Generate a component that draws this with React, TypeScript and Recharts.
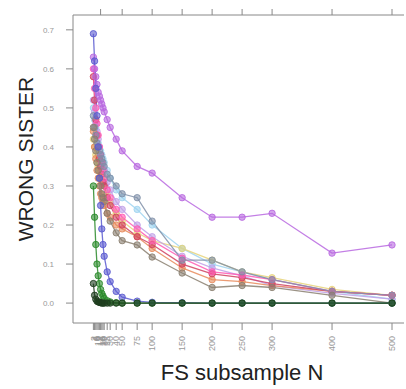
import React from "react";
import { LineChart, Line, XAxis, YAxis } from "recharts";

// FS subsample sizes (x positions of every point)
const sampleN = [2, 4, 6, 8, 10, 12, 14, 16, 18, 20, 25, 30, 40, 50, 75, 100, 150, 200, 250, 300, 400, 500];
const yTicks = [0, 0.1, 0.2, 0.3, 0.4, 0.5, 0.6, 0.7];

const lightblue = [0.5, 0.47, 0.45, 0.43, 0.41, 0.4, 0.39, 0.38, 0.37, 0.36, 0.34, 0.32, 0.29, 0.27, 0.24, 0.2, 0.14, 0.1, 0.08, 0.06, 0.03, 0.01];
const khaki = [0.42, 0.4, 0.38, 0.36, 0.35, 0.34, 0.33, 0.32, 0.31, 0.3, 0.28, 0.26, 0.23, 0.21, 0.18, 0.16, 0.14, 0.11, 0.08, 0.065, 0.035, 0.02];
const lavender = [0.52, 0.49, 0.46, 0.44, 0.42, 0.4, 0.38, 0.36, 0.35, 0.34, 0.31, 0.29, 0.26, 0.24, 0.2, 0.17, 0.12, 0.09, 0.07, 0.045, 0.025, 0.01];
const orange = [0.44, 0.4, 0.37, 0.34, 0.32, 0.3, 0.28, 0.27, 0.26, 0.25, 0.23, 0.22, 0.2, 0.19, 0.17, 0.14, 0.09, 0.06, 0.055, 0.045, 0.03, 0.02];
const red = [0.58, 0.52, 0.47, 0.43, 0.4, 0.37, 0.35, 0.33, 0.31, 0.3, 0.27, 0.25, 0.22, 0.2, 0.17, 0.15, 0.1, 0.075, 0.065, 0.05, 0.03, 0.02];
const pink = [0.6, 0.55, 0.5, 0.46, 0.43, 0.4, 0.38, 0.36, 0.34, 0.32, 0.29, 0.27, 0.24, 0.22, 0.19, 0.16, 0.115, 0.08, 0.072, 0.06, 0.03, 0.02];
const slate = [0.48, 0.45, 0.43, 0.41, 0.4, 0.39, 0.38, 0.37, 0.36, 0.35, 0.33, 0.32, 0.3, 0.28, 0.27, 0.21, 0.11, 0.11, 0.08, 0.06, 0.03, 0.02];
const taupe = [0.45, 0.42, 0.39, 0.36, 0.34, 0.32, 0.3, 0.28, 0.27, 0.26, 0.23, 0.21, 0.18, 0.16, 0.149, 0.118, 0.077, 0.04, 0.045, 0.04, 0.02, 0.0];
const purple = [0.63, 0.6, 0.58, 0.56, 0.54, 0.53, 0.52, 0.51, 0.5, 0.49, 0.47, 0.45, 0.42, 0.39, 0.35, 0.333, 0.27, 0.22, 0.22, 0.23, 0.128, 0.149];
const blue = [0.69, 0.62, 0.55, 0.48, 0.4, 0.32, 0.25, 0.19, 0.15, 0.12, 0.08, 0.055, 0.03, 0.015, 0.005, 0.002, 0.001, 0, 0, 0, 0, 0];
const green = [0.3, 0.22, 0.15, 0.1, 0.07, 0.05, 0.035, 0.025, 0.018, 0.012, 0.006, 0.003, 0.001, 0, 0, 0, 0, 0, 0, 0, 0, 0];
const darkgreen = [0.05, 0.02, 0.01, 0.005, 0.003, 0.002, 0.001, 0, 0, 0, 0, 0, 0, 0, 0, 0, 0, 0, 0, 0, 0, 0];

const series = [
  { key: "lightblue", values: lightblue, color: "#9fd4f0" },
  { key: "khaki", values: khaki, color: "#e6d47a" },
  { key: "lavender", values: lavender, color: "#c0a0e8" },
  { key: "orange", values: orange, color: "#e88a5a" },
  { key: "red", values: red, color: "#d04060" },
  { key: "pink", values: pink, color: "#ff5ab4" },
  { key: "slate", values: slate, color: "#7f8fa8" },
  { key: "taupe", values: taupe, color: "#8a7f70" },
  { key: "purple", values: purple, color: "#b868e0" },
  { key: "blue", values: blue, color: "#5a5ad0" },
  { key: "green", values: green, color: "#2a8a2a" },
  { key: "darkgreen", values: darkgreen, color: "#1e3d1e" },
];

const data = sampleN.map((n, i) => {
  const row: Record<string, number> = { n };
  series.forEach((s) => (row[s.key] = s.values[i]));
  return row;
});

const XTick = ({ x, y, payload }: any) => (
  <text
    x={x}
    y={y}
    dy="0.35em"
    transform={`rotate(-90, ${x}, ${y})`}
    textAnchor="end"
    fontSize={9}
    fill="#999"
  >
    {payload.value}
  </text>
);

export default function App() {
  return (
    <div
      style={{
        position: "absolute",
        left: 0,
        top: 0,
        width: 406,
        height: 389,
        background: "#fff",
        fontFamily: "'Liberation Sans', Arial, sans-serif",
      }}
    >
      <LineChart
        width={406}
        height={389}
        data={data}
        margin={{ top: 0, right: 2, bottom: 0, left: 0 }}
      >
        <XAxis
          xAxisId="top"
          orientation="top"
          dataKey="n"
          type="number"
          domain={[-32, 520]}
          ticks={sampleN}
          height={15}
          tickSize={6}
          tick={() => <g />}
          stroke="#888"
          allowDataOverflow
        />
        <XAxis
          dataKey="n"
          type="number"
          domain={[-32, 520]}
          ticks={sampleN}
          interval={0}
          height={66}
          tickSize={7}
          tickMargin={6}
          tick={<XTick />}
          stroke="#888"
          allowDataOverflow
        />
        <YAxis
          type="number"
          domain={[-0.051, 0.738]}
          ticks={yTicks}
          width={73}
          tickSize={7}
          tickMargin={12}
          tickFormatter={(v) => v.toFixed(1)}
          tick={{ fontSize: 8, fill: "#999" }}
          stroke="#888"
          allowDataOverflow
        />
        {series.map((s) => (
          <Line
            key={s.key}
            dataKey={s.key}
            stroke={s.color}
            strokeWidth={1.3}
            strokeOpacity={0.85}
            dot={{ r: 3.2, fill: s.color, fillOpacity: 0.6, stroke: s.color, strokeWidth: 1 }}
            isAnimationActive={false}
          />
        ))}
      </LineChart>
      <div
        style={{
          position: "absolute",
          left: 25,
          top: 159,
          transform: "translate(-50%, -50%) rotate(-90deg)",
          fontSize: 21,
          lineHeight: "21px",
          whiteSpace: "nowrap",
          color: "#222",
        }}
      >
        WRONG SISTER
      </div>
      <div
        style={{
          position: "absolute",
          left: 242,
          top: 362,
          transform: "translateX(-50%)",
          fontSize: 22,
          lineHeight: "22px",
          whiteSpace: "nowrap",
          color: "#222",
        }}
      >
        FS subsample N
      </div>
    </div>
  );
}
